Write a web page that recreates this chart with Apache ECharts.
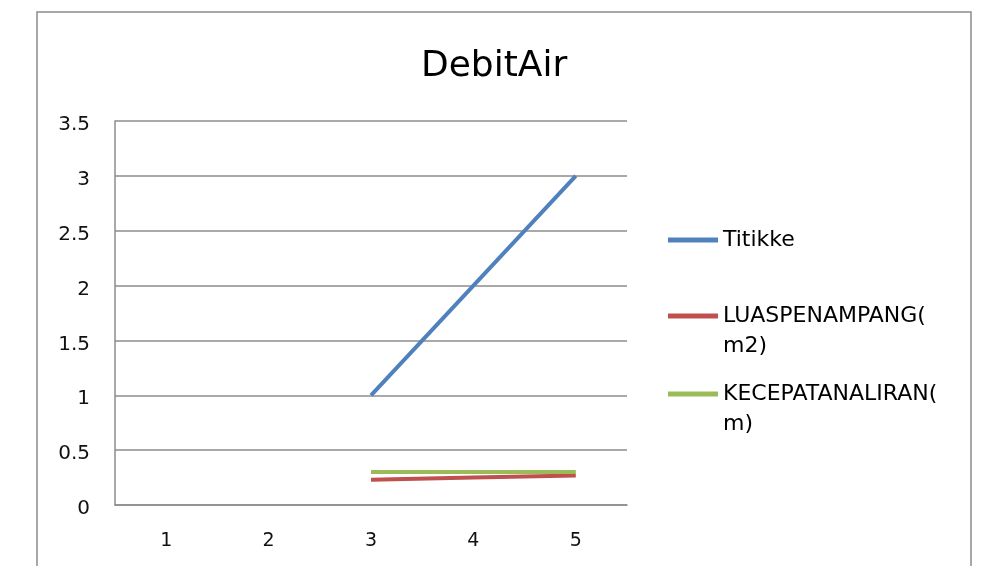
<!DOCTYPE html>
<html>
<head>
<meta charset="utf-8">
<script src="https://cdn.jsdelivr.net/npm/echarts@6/dist/echarts.min.js"></script>
<style>
  html, body { margin: 0; padding: 0; background: #fff; }
  #chart { width: 995px; height: 566px; }
</style>
</head>
<body>
<div id="chart"></div>
<script>
let categories = ['1', '2', '3', '4', '5']
let titikke = [null, null, 1, 2, 3]
let luasPenampang = [null, null, 0.23, 0.25, 0.27]
let kecepatanAliran = [null, null, 0.3, 0.3, 0.3]
let yTicks = { min: 0, max: 3.5, interval: 0.5 }

let myChart = echarts.init(document.getElementById('chart'))
let font = 'DejaVu Sans'

// legend: one per item so the gaps match
function legendItem(name, top) {
  return {
    orient: 'vertical',
    left: 663,
    top: top,
    data: [name],
    itemWidth: 50,
    itemHeight: 5,
    icon: 'rect',
    selectedMode: false,
    textStyle: {
      fontFamily: font,
      fontSize: 22,
      color: '#000',
      lineHeight: 30
    },
    // blank first line keeps the icon next to the first line of text
    formatter: function (n) {
      if (n === 'LUASPENAMPANG(m2)') return ' \nLUASPENAMPANG(\nm2)'
      if (n === 'KECEPATANALIRAN(m)') return ' \nKECEPATANALIRAN(\nm)'
      return n
    }
  }
}

let options = {
  backgroundColor: '#fff',
  animation: false,
  title: {
    text: 'DebitAir',
    left: 416,
    top: 44,
    textStyle: {
      fontFamily: font,
      fontSize: 36,
      fontWeight: 'normal',
      color: '#000'
    }
  },
  graphic: [
    {
      type: 'polyline',
      shape: { points: [[37, 600], [37, 12], [971, 12], [971, 600]] },
      style: { stroke: '#8c8c8c', lineWidth: 1.5, fill: 'none' }
    }
  ],
  legend: [
    legendItem('Titikke', 220),
    legendItem('LUASPENAMPANG(m2)', 266),
    legendItem('KECEPATANALIRAN(m)', 344)
  ],
  grid: {
    left: 115,
    right: 368,
    top: 121,
    bottom: 61
  },
  xAxis: {
    type: 'category',
    data: categories,
    boundaryGap: true,
    axisLine: { lineStyle: { color: '#8c8c8c', width: 1.5 } },
    axisTick: { show: false },
    axisLabel: {
      fontFamily: font,
      fontSize: 19,
      color: '#111',
      margin: 27
    }
  },
  yAxis: {
    type: 'value',
    min: yTicks.min,
    max: yTicks.max,
    interval: yTicks.interval,
    axisLine: { show: true, lineStyle: { color: '#8c8c8c', width: 1.5 } },
    axisTick: { show: false },
    splitLine: { lineStyle: { color: '#8c8c8c', width: 1.5 } },
    axisLabel: {
      fontFamily: font,
      fontSize: 20,
      color: '#111',
      margin: 25,
      // small line box so the labels sit a bit under the grid line
      verticalAlign: 'top',
      lineHeight: 8
    }
  },
  series: [
    {
      name: 'Titikke',
      type: 'line',
      data: titikke,
      showSymbol: false,
      color: '#4F81BD',
      lineStyle: { width: 4 }
    },
    {
      name: 'LUASPENAMPANG(m2)',
      type: 'line',
      data: luasPenampang,
      showSymbol: false,
      color: '#C0504D',
      lineStyle: { width: 4 }
    },
    {
      name: 'KECEPATANALIRAN(m)',
      type: 'line',
      data: kecepatanAliran,
      showSymbol: false,
      color: '#9BBB59',
      lineStyle: { width: 4 }
    }
  ]
}
myChart.setOption(options)
</script>
</body>
</html>
